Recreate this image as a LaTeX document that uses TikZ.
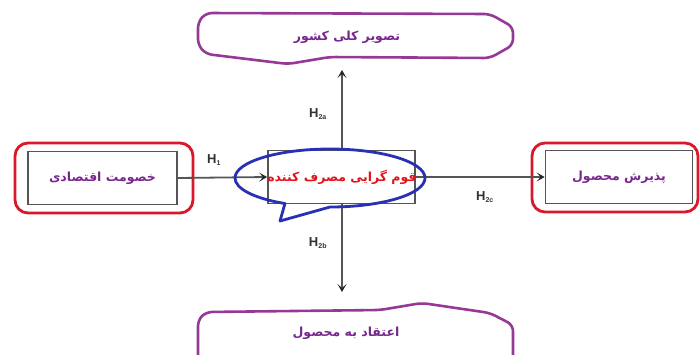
\documentclass[tikz,border=0pt]{standalone}
\usepackage{fontspec}
\setsansfont{Liberation Sans}
\newfontfamily\arabicfont[Script=Arabic]{DejaVu Sans}
\TeXXeTstate=1
\usetikzlibrary{arrows.meta}
\definecolor{boxred}{RGB}{218,24,42}
\definecolor{bubbleblue}{RGB}{40,48,180}
\definecolor{callpurple}{RGB}{150,56,150}
\definecolor{textpurple}{RGB}{120,40,140}
\definecolor{textred}{RGB}{225,20,30}
\definecolor{linegray}{RGB}{85,85,85}
\tikzset{
  innerbox/.style={draw=linegray, line width=1.8pt, fill=white, minimum width=149pt, minimum height=53pt, inner sep=0pt},
  outerframe/.style={draw=boxred, line width=2.8pt, rounded corners=13pt},
  callout/.style={draw=callpurple, line width=2.6pt, rounded corners=6pt, line join=round},
  fatext/.style={font=\arabicfont\bfseries\fontsize{12.5}{14}\selectfont},
  hyp/.style={font=\sffamily\bfseries\fontsize{13}{14}\selectfont, text=black!80},
  link/.style={draw=linegray, line width=1.8pt, -{Stealth[length=8pt,width=9pt,inset=4pt,color=black!85]}}
}
\begin{document}
\begin{tikzpicture}[x=1pt,y=-1pt]
\useasboundingbox (0,0) rectangle (700,354);
\fill[white] (0,0) rectangle (700,354);

% top call-out: national image
\draw[callout] (198,22) -- (206,13) -- (490,14) -- (513,27) -- (513,45) -- (490,58)
  -- (330,57) -- (288,64) -- (206,54) -- (198,45) -- cycle;
\node[fatext, text=textpurple] (image) at (347,37) {\beginR تصویر کلی کشور\endR};
\coordinate (imageb) at (342,61);

% bottom call-out: product belief
\draw[callout] (198,360) -- (198,320) -- (206,312) -- (380,310) -- (422,303) -- (490,313)
  -- (513,325) -- (513,360);
\node[fatext, text=textpurple] (belief) at (346,333) {\beginR اعتقاد به محصول\endR};
\coordinate (belieft) at (342,300);

% left: economic animosity
\draw[outerframe] (15,143) rectangle (193,213);
\node[innerbox] (anim) at (102.5,178) {};
\node[fatext, text=textpurple] at (anim.center) {\beginR خصومت اقتصادی\endR};

% right: product acceptance
\draw[outerframe] (532,143) rectangle (698,212);
\node[innerbox, minimum width=147pt] (accept) at (619,177) {};
\node[fatext, text=textpurple] at (accept.center) {\beginR پذیرش محصول\endR};

% centre: consumer ethnocentrism
\node[innerbox, minimum width=147pt] (ethno) at (341.5,177) {};

% vertical links
\draw[link] (ethno.north -| imageb) -- (342,70);
\draw[link] (ethno.south -| belieft) -- (342,292);

% horizontal links
\draw[link] (anim.east) -- (ethno.west);
\draw[link] (ethno.east) -- (accept.west);

% speech bubble round the centre box
\draw[draw=bubbleblue, line width=2.8pt, line join=round]
  (330,207) arc[start angle=270, end angle=601.7, x radius=95pt, y radius=29pt]
  -- (280,221) -- cycle;

\node[fatext, text=textred] (ethnotext) at (342,177) {\beginR قوم گرایی مصرف کننده\endR};

% hypothesis labels
\node[hyp] (h1) at (214,160) {H\textsubscript{\fontsize{7}{8}\selectfont 1}};
\node[hyp] (h2a) at (318,114) {H\textsubscript{\fontsize{7}{8}\selectfont 2a}};
\node[hyp] (h2b) at (318,243) {H\textsubscript{\fontsize{7}{8}\selectfont 2b}};
\node[hyp] (h2c) at (485,197) {H\textsubscript{\fontsize{7}{8}\selectfont 2c}};
\end{tikzpicture}
\end{document}
